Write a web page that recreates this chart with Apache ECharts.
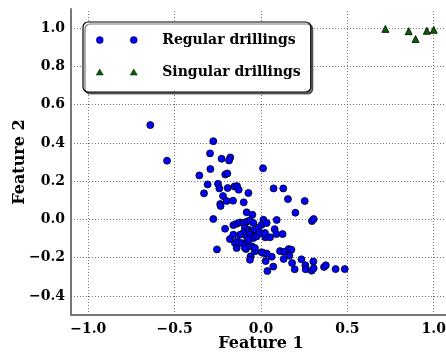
<!DOCTYPE html>
<html><head><meta charset="utf-8">
<script src="https://cdn.jsdelivr.net/npm/echarts@6/dist/echarts.min.js"></script>
<style>html,body{margin:0;padding:0;background:#fff}#c{width:446px;height:356px}</style>
</head><body><div id="c"></div>
<script>
// Data
const regularX = [-0.641,-0.544,-0.276,-0.295,-0.228,-0.178,-0.185,-0.357,-0.293,-0.207,-0.195,0.012,-0.309,-0.249,-0.241,-0.330,-0.193,-0.154,-0.139,-0.129,-0.073,-0.220,-0.199,-0.162,-0.236,-0.234,-0.100,0.073,0.129,0.156,0.253,0.199,-0.276,-0.083,-0.050,0.091,0.295,0.305,0.014,-0.208,-0.180,-0.255,0.079,0.089,0.125,0.025,0.052,0.110,0.160,0.176,0.133,0.164,0.131,0.180,0.195,0.234,0.257,0.259,0.293,0.303,0.305,0.365,0.375,0.432,0.485,0.062,0.027,0.071,0.037,0.014,0.033,-0.060,-0.064,-0.035,-0.087,-0.141,-0.151,-0.137,-0.160,-0.160,-0.141,-0.122,-0.102,-0.083,-0.064,-0.044,-0.093,-0.073,-0.054,-0.035,-0.015,0.004,0.033,-0.102,-0.083,-0.064,-0.044,-0.025,-0.006,0.023,-0.112,-0.083,-0.054,-0.035,-0.122,-0.073,-0.093,0.004];
const regularY = [0.493,0.307,0.409,0.345,0.317,0.324,0.308,0.230,0.263,0.235,0.240,0.267,0.183,0.186,0.162,0.136,0.164,0.172,0.174,0.155,0.138,0.122,0.096,0.098,0.080,0.070,0.089,0.162,0.162,0.106,0.096,0.035,0.002,0.037,0.024,-0.003,-0.009,0.002,-0.002,-0.049,-0.103,-0.157,-0.051,-0.077,-0.077,-0.094,-0.094,-0.166,-0.155,-0.159,-0.169,-0.190,-0.207,-0.228,-0.261,-0.209,-0.240,-0.261,-0.268,-0.220,-0.256,-0.249,-0.240,-0.260,-0.260,-0.195,-0.218,-0.247,-0.270,-0.176,-0.179,-0.193,-0.211,-0.167,-0.155,-0.150,-0.124,-0.115,-0.080,-0.030,-0.023,-0.016,-0.019,-0.012,-0.005,-0.019,-0.045,-0.054,-0.063,-0.054,-0.045,-0.028,-0.019,-0.071,-0.089,-0.080,-0.098,-0.089,-0.071,-0.071,-0.124,-0.124,-0.141,-0.150,-0.080,-0.106,-0.150,-0.172];
const singularX = [0.72,0.855,0.895,0.96,1.0];
const singularY = [0.996,0.984,0.943,0.986,0.991];
const xTicks = [-1.0,-0.5,0.0,0.5,1.0];
const yTicks = [-0.4,-0.2,0.0,0.2,0.4,0.6,0.8,1.0];
const seriesNames = ['Regular drillings','Singular drillings'];
const axisNames = ['Feature 1','Feature 2'];

const FONT = 'DejaVu Serif';
const fmt = v => (Math.round(v*10)/10).toFixed(1).replace('-', '\u2212');
const zip = (a,b) => a.map((v,i)=>[v,b[i]]);
const gridLine = {type:[1,2], color:'#777', width:1};

const chart = echarts.init(document.getElementById('c'), null, {renderer:'canvas'});
chart.setOption({
  animation:false,
  backgroundColor:'#fff',
  grid:{left:71, top:9, bottom:41, right:-5, outerBoundsMode:'none', containLabel:false},
  xAxis:{type:'value', min:-1.1, max:1.1, interval:0.1,
    name:axisNames[0], nameLocation:'middle', nameGap:21, nameMoveOverlap:false,
    nameTextStyle:{fontFamily:FONT, fontWeight:'bold', fontSize:16, color:'#000'},
    axisLine:{onZero:false, lineStyle:{color:'#777', width:2}},
    axisTick:{show:false}, splitLine:{show:false},
    axisLabel:{margin:7, fontFamily:FONT, fontWeight:'bold', fontSize:14, color:'#000',
      formatter:v => (Math.round(v*10)%5===0) ? fmt(v) : ''}},
  yAxis:{type:'value', min:-0.5, max:1.1, interval:0.1,
    name:axisNames[1], nameLocation:'middle', nameGap:43, nameRotate:90, nameMoveOverlap:false,
    nameTextStyle:{fontFamily:FONT, fontWeight:'bold', fontSize:16, color:'#000'},
    axisLine:{onZero:false, lineStyle:{color:'#777', width:2}},
    axisTick:{show:false}, splitLine:{show:false},
    axisLabel:{margin:6, fontFamily:FONT, fontWeight:'bold', fontSize:14, color:'#000',
      formatter:v => (Math.round(v*10)%2===0) ? fmt(v) : ''}},
  legend:{
    data:[
      {name:seriesNames[0], icon:'path://M0,3.5A3.5,3.5 0 1,1 7,3.5A3.5,3.5 0 1,1 0,3.5ZM34,3.5A3.5,3.5 0 1,1 41,3.5A3.5,3.5 0 1,1 34,3.5Z'},
      {name:seriesNames[1], icon:'path://M3.5,0L7,6L0,6ZM37.5,0L41,6L34,6Z'}
    ],
    orient:'vertical', left:83, top:22,
    padding:[11,10,13,13], itemGap:18,
    backgroundColor:'#fff', borderColor:'#000', borderWidth:1.2, borderRadius:5,
    shadowColor:'rgba(0,0,0,0.55)', shadowOffsetX:2, shadowOffsetY:2, shadowBlur:0,
    itemWidth:41, itemHeight:7,
    itemStyle:{borderWidth:0.5, borderColor:'#000'},
    textStyle:{fontFamily:FONT, fontWeight:'bold', fontSize:14, color:'#000', padding:[0,0,0,20]}
  },
  series:[
    {type:'scatter', name:seriesNames[0], data:zip(regularX, regularY), z:3,
      symbol:'circle', symbolSize:7,
      itemStyle:{color:'#0000ff', borderColor:'#000', borderWidth:0.8, opacity:1},
      markLine:{silent:true, z:1, symbol:'none', label:{show:false}, lineStyle:gridLine, animation:false,
        emphasis:{disabled:true},
        data:[...xTicks.map(v=>({xAxis:v})), ...yTicks.map(v=>({yAxis:v}))]}},
    {type:'scatter', name:seriesNames[1], data:zip(singularX, singularY), z:3,
      symbol:'triangle', symbolSize:7,
      itemStyle:{color:'#006400', borderColor:'#000', borderWidth:0.8, opacity:1}}
  ]
});
</script></body></html>
